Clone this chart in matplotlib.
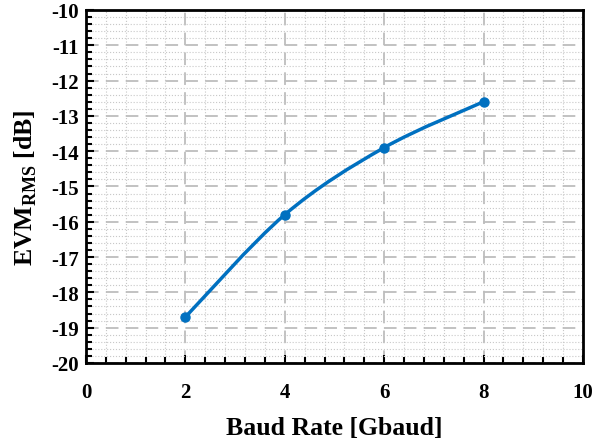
import matplotlib.pyplot as plt
from matplotlib.path import Path
from matplotlib.patches import PathPatch
from matplotlib.ticker import MultipleLocator

plt.rcParams["font.family"] = ["Liberation Serif", "DejaVu Serif"]
plt.rcParams["font.weight"] = "bold"
plt.rcParams["axes.unicode_minus"] = False
plt.rcParams["mathtext.fontset"] = "custom"
plt.rcParams["mathtext.rm"] = "Liberation Serif:bold"
plt.rcParams["mathtext.bf"] = "Liberation Serif:bold"

baud_rate = [2, 4, 6, 8]
evm_rms = [-18.7, -15.8, -13.9, -12.6]

LINE = "#0070C0"


def smooth_path(xs, ys, tension=1 / 6):
    # Excel-style smoothed line: Catmull-Rom converted to cubic Bezier segments
    verts = [(xs[0], ys[0])]
    codes = [Path.MOVETO]
    n = len(xs)
    for i in range(n - 1):
        x0, y0 = (xs[i - 1], ys[i - 1]) if i > 0 else (xs[i], ys[i])
        x1, y1 = xs[i], ys[i]
        x2, y2 = xs[i + 1], ys[i + 1]
        x3, y3 = (xs[i + 2], ys[i + 2]) if i + 2 < n else (x2, y2)
        c1 = (x1 + (x2 - x0) * tension, y1 + (y2 - y0) * tension)
        c2 = (x2 - (x3 - x1) * tension, y2 - (y3 - y1) * tension)
        verts += [c1, c2, (x2, y2)]
        codes += [Path.CURVE4] * 3
    return Path(verts, codes)


fig = plt.figure(figsize=(5.93, 4.39), dpi=100)
ax = fig.add_axes([0.145, 0.171, 0.838, 0.804])

ax.set_xlim(0, 10)
ax.set_ylim(-20, -10)
ax.xaxis.set_major_locator(MultipleLocator(2))
ax.xaxis.set_minor_locator(MultipleLocator(0.4))
ax.yaxis.set_major_locator(MultipleLocator(1))
ax.yaxis.set_minor_locator(MultipleLocator(0.2))

ax.grid(which="minor", color="#C8C8C8", ls=":", lw=0.8)
ax.grid(which="major", color="#BDBDBD", ls=(0, (7, 4)), lw=1.3)
ax.set_axisbelow(True)

ax.add_patch(PathPatch(smooth_path(baud_rate, evm_rms), facecolor="none",
                       edgecolor=LINE, lw=2.5, zorder=3))
ax.plot(baud_rate, evm_rms, ls="none", marker="o", ms=6.5, color=LINE, zorder=4)

ax.tick_params(which="both", direction="in", labelsize=15, width=1.5,
               colors="black")
ax.tick_params(which="major", length=6)
ax.tick_params(which="minor", length=4)
ax.tick_params(axis="x", pad=14)
ax.tick_params(axis="y", pad=5)
for sp in ax.spines.values():
    sp.set_linewidth(2)

ax.set_xlabel("Baud Rate [Gbaud]", fontsize=18.5, fontweight="bold", labelpad=10)
ax.set_ylabel(r"EVM$_{\mathbf{RMS}}$ [dB]", fontsize=18.5, fontweight="bold",
              labelpad=9)

fig.savefig("out.png", dpi=100, facecolor="white")
